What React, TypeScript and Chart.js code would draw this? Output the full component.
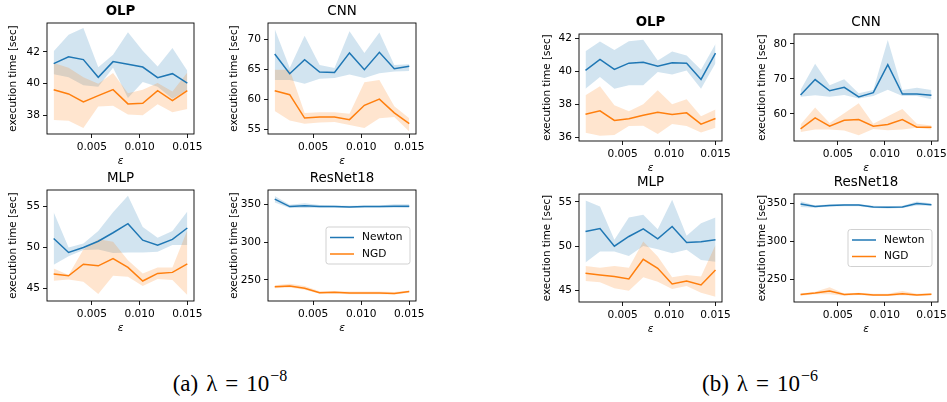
import React, { useEffect, useRef } from "react";
import { Chart, registerables } from "chart.js";
Chart.register(...registerables);

// ---------------- DATA ----------------
const eps = [0.001, 0.00256, 0.00411, 0.00567, 0.00722, 0.00878, 0.01033, 0.01189, 0.01344, 0.015];
const xTickValues = [0.005, 0.01, 0.015];
const xTickLabels = ["0.005", "0.010", "0.015"];
const seriesNames = ["Newton", "NGD"];
const yAxisLabel = "execution time [sec]";
const xAxisLabel = "ε";

// (a) lambda = 1e-8
const olpA_newton = [41.26, 41.7, 41.52, 40.4, 41.39, 41.22, 41.05, 40.38, 40.63, 40.04];
const olpA_newtonHi = [42.04, 43.09, 43.52, 41.03, 41.83, 43.24, 42.08, 41.09, 42.25, 40.82];
const olpA_newtonLo = [40.6, 40.4, 39.9, 39.8, 41.0, 39.1, 40.1, 39.8, 39.05, 39.6];
const olpA_ngd = [39.62, 39.35, 38.84, 39.24, 39.62, 38.72, 38.76, 39.56, 38.93, 39.56];
const olpA_ngdHi = [41.3, 41.0, 40.4, 40.0, 40.67, 39.4, 39.62, 40.04, 39.5, 40.7];
const olpA_ngdLo = [37.7, 37.65, 37.2, 38.55, 38.6, 38.05, 38.0, 38.7, 38.2, 38.4];
const olpA_yTicks = [38, 40, 42];

const cnnA_newton = [67.6, 64.33, 66.67, 64.6, 64.55, 67.8, 65.0, 67.9, 65.17, 65.56];
const cnnA_newtonHi = [71.8, 65.3, 70.67, 65.8, 65.3, 71.4, 67.8, 71.2, 65.8, 65.9];
const cnnA_newtonLo = [63.3, 63.3, 62.67, 63.5, 63.6, 64.2, 63.6, 64.4, 64.7, 64.8];
const cnnA_ngd = [61.5, 60.83, 56.94, 57.1, 57.1, 56.67, 59.06, 60.1, 57.8, 56.0];
const cnnA_ngdHi = [65.0, 65.0, 57.8, 57.9, 57.9, 57.67, 62.9, 63.3, 58.9, 56.9];
const cnnA_ngdLo = [58.1, 56.55, 56.0, 56.2, 56.3, 55.8, 55.3, 56.9, 57.1, 54.7];
const cnnA_yTicks = [55, 60, 65, 70];

const mlpA_newton = [51.1, 49.4, 50.0, 50.77, 51.8, 52.9, 50.9, 50.28, 51.0, 52.38];
const mlpA_newtonHi = [54.3, 50.0, 50.5, 52.0, 54.3, 56.3, 52.5, 51.2, 52.0, 54.4];
const mlpA_newtonLo = [47.9, 48.95, 49.7, 49.76, 49.35, 49.4, 49.4, 49.5, 50.3, 50.3];
const mlpA_ngd = [46.77, 46.57, 47.98, 47.78, 48.67, 47.58, 45.93, 46.85, 46.98, 48.02];
const mlpA_ngdHi = [47.46, 46.65, 49.76, 51.0, 50.7, 48.47, 46.85, 47.58, 47.58, 52.1];
const mlpA_ngdLo = [45.97, 46.13, 45.85, 44.35, 46.57, 46.45, 45.32, 46.17, 46.05, 44.23];
const mlpA_yTicks = [45, 50, 55];

const resA_newton = [357, 347, 348, 347, 347, 346.5, 347, 347, 347.5, 347.5];
const resA_newtonHi = [361, 349.5, 351.5, 349, 348.5, 348, 348.5, 348.5, 350, 350];
const resA_newtonLo = [352.5, 345, 345, 345.5, 345.5, 345, 345.5, 345.5, 345.5, 345];
const resA_ngd = [241, 242, 239, 233, 233.5, 232.5, 232.5, 232.5, 232, 234.5];
const resA_ngdHi = [243, 245, 242, 235, 235, 234.5, 234.5, 234.5, 234, 236];
const resA_ngdLo = [239, 240, 237, 231.5, 232, 231, 231, 231, 230.5, 233];
const resA_yTicks = [250, 300, 350];

// (b) lambda = 1e-6
const olpB_newton = [40.06, 40.72, 40.12, 40.5, 40.56, 40.32, 40.52, 40.5, 39.52, 41.1];
const olpB_newtonHi = [41.22, 41.8, 41.3, 41.82, 41.92, 40.66, 41.2, 40.96, 40.1, 41.66];
const olpB_newtonLo = [38.96, 39.66, 38.96, 39.16, 39.16, 39.96, 39.82, 40.06, 38.96, 40.5];
const olpB_ngd = [37.42, 37.62, 37.04, 37.14, 37.36, 37.54, 37.4, 37.5, 36.82, 37.16];
const olpB_ngdHi = [38.56, 39.1, 37.96, 37.6, 38.02, 38.86, 38.02, 38.32, 37.3, 37.7];
const olpB_ngdLo = [36.3, 36.12, 36.16, 36.7, 36.72, 36.22, 36.82, 36.7, 36.32, 36.6];
const olpB_yTicks = [36, 38, 40, 42];

const cnnB_newton = [65.4, 69.8, 66.6, 67.56, 64.84, 66.06, 74.04, 65.68, 65.68, 65.3];
const cnnB_newtonHi = [66.8, 74.3, 68.2, 69.9, 65.9, 66.8, 81.1, 66.8, 67.46, 66.8];
const cnnB_newtonLo = [64.9, 65.3, 64.9, 65.4, 64.4, 65.1, 66.9, 65.1, 65.1, 64.2];
const cnnB_ngd = [55.73, 58.83, 56.48, 58.17, 58.36, 56.48, 56.95, 58.36, 56.2, 56.2];
const cnnB_ngdHi = [56.95, 61.8, 57.4, 60.2, 63.05, 57.2, 59.3, 61.36, 57.2, 56.7];
const cnnB_ngdLo = [54.8, 55.5, 55.5, 55.26, 53.9, 55.7, 55.35, 55.5, 56.0, 55.5];
const cnnB_yTicks = [60, 70, 80];

const mlpB_newton = [51.66, 52.0, 50.0, 51.1, 51.96, 50.83, 52.23, 50.42, 50.5, 50.72];
const mlpB_newtonHi = [55.17, 54.5, 50.72, 53.25, 53.55, 51.92, 55.25, 51.17, 52.6, 53.25];
const mlpB_newtonLo = [48.15, 49.4, 49.4, 48.9, 50.04, 49.66, 49.2, 49.6, 48.45, 48.26];
const mlpB_ngd = [46.94, 46.75, 46.57, 46.3, 48.53, 47.5, 45.74, 46.08, 45.62, 47.32];
const mlpB_ngdHi = [47.77, 47.58, 47.77, 47.58, 50.53, 48.83, 46.5, 46.75, 46.57, 50.15];
const mlpB_ngdLo = [46.08, 45.92, 45.25, 44.98, 46.5, 46.0, 45.17, 45.5, 44.75, 44.3];
const mlpB_yTicks = [45, 50, 55];

const resB_newton = [349.5, 346, 347.5, 348, 348, 345.5, 345, 345.5, 350, 348.5];
const resB_newtonHi = [353, 347.5, 349, 349.5, 349.5, 347, 346.5, 347, 352.5, 350];
const resB_newtonLo = [345.5, 344.5, 346, 346.5, 346.5, 344, 343.5, 344, 347.5, 347];
const resB_ngd = [230.5, 232.5, 235, 230.5, 231.5, 230, 230, 231.5, 230, 231];
const resB_ngdHi = [232, 234, 240, 232, 233, 231.5, 231.5, 235, 231.5, 232.5];
const resB_ngdLo = [229, 231, 231, 229, 230, 228.5, 228.5, 229.5, 228.5, 229.5];
const resB_yTicks = [250, 300, 350];

// ---------------- STYLE / LAYOUT ----------------
const C0 = "#1f77b4";
const C1 = "#ff7f0e";
const C0_FILL = "rgba(31,119,180,0.2)";
const C1_FILL = "rgba(255,127,14,0.2)";
const FONT = "'DejaVu Sans', sans-serif";
const TITLE_H = 19;
const HX = 34;
const PADR = 16;

type Panel = {
  title: string; bold: boolean;
  newton: number[]; newtonHi: number[]; newtonLo: number[];
  ngd: number[]; ngdHi: number[]; ngdLo: number[];
  yTicks: number[]; yMin: number; yMax: number; legend: boolean;
  L: number; R: number; T: number; B: number; ylabX: number;
};

const panels: Panel[] = [
  { title: "OLP", bold: true, newton: olpA_newton, newtonHi: olpA_newtonHi, newtonLo: olpA_newtonLo, ngd: olpA_ngd, ngdHi: olpA_ngdHi, ngdLo: olpA_ngdLo, yTicks: olpA_yTicks, yMin: 36.82, yMax: 43.83, legend: false, L: 47, R: 194, T: 23, B: 134, ylabX: 13 },
  { title: "CNN", bold: false, newton: cnnA_newton, newtonHi: cnnA_newtonHi, newtonLo: cnnA_newtonLo, ngd: cnnA_ngd, ngdHi: cnnA_ngdHi, ngdLo: cnnA_ngdLo, yTicks: cnnA_yTicks, yMin: 54.28, yMax: 72.78, legend: false, L: 268, R: 416, T: 23, B: 134, ylabX: 234 },
  { title: "MLP", bold: false, newton: mlpA_newton, newtonHi: mlpA_newtonHi, newtonLo: mlpA_newtonLo, ngd: mlpA_ngd, ngdHi: mlpA_ngdHi, ngdLo: mlpA_ngdLo, yTicks: mlpA_yTicks, yMin: 43.5, yMax: 57.0, legend: false, L: 47, R: 194, T: 190, B: 301, ylabX: 13 },
  { title: "ResNet18", bold: false, newton: resA_newton, newtonHi: resA_newtonHi, newtonLo: resA_newtonLo, ngd: resA_ngd, ngdHi: resA_ngdHi, ngdLo: resA_ngdLo, yTicks: resA_yTicks, yMin: 222, yMax: 369, legend: true, L: 268, R: 416, T: 190, B: 301, ylabX: 234 },
  { title: "OLP", bold: true, newton: olpB_newton, newtonHi: olpB_newtonHi, newtonLo: olpB_newtonLo, ngd: olpB_ngd, ngdHi: olpB_ngdHi, ngdLo: olpB_ngdLo, yTicks: olpB_yTicks, yMin: 35.8, yMax: 42.26, legend: false, L: 579, R: 722, T: 34, B: 141, ylabX: 547 },
  { title: "CNN", bold: false, newton: cnnB_newton, newtonHi: cnnB_newtonHi, newtonLo: cnnB_newtonLo, ngd: cnnB_ngd, ngdHi: cnnB_ngdHi, ngdLo: cnnB_ngdLo, yTicks: cnnB_yTicks, yMin: 52.25, yMax: 82.8, legend: false, L: 794, R: 938, T: 34, B: 141, ylabX: 762 },
  { title: "MLP", bold: false, newton: mlpB_newton, newtonHi: mlpB_newtonHi, newtonLo: mlpB_newtonLo, ngd: mlpB_ngd, ngdHi: mlpB_ngdHi, ngdLo: mlpB_ngdLo, yTicks: mlpB_yTicks, yMin: 43.7, yMax: 55.9, legend: false, L: 579, R: 722, T: 194, B: 302, ylabX: 547 },
  { title: "ResNet18", bold: false, newton: resB_newton, newtonHi: resB_newtonHi, newtonLo: resB_newtonLo, ngd: resB_ngd, ngdHi: resB_ngdHi, ngdLo: resB_ngdLo, yTicks: resB_yTicks, yMin: 220.7, yMax: 362.5, legend: true, L: 794, R: 938, T: 194, B: 302, ylabX: 762 },
];

const framePlugin = {
  id: "frame",
  afterDatasetsDraw(chart: any) {
    const { ctx, chartArea: a } = chart;
    ctx.save();
    ctx.strokeStyle = "#000";
    ctx.lineWidth = 0.9;
    ctx.strokeRect(a.left, a.top, a.right - a.left, a.bottom - a.top);
    ctx.restore();
  },
};

const mplLegend = {
  id: "mplLegend",
  afterDraw(chart: any, _args: any, opts: any) {
    if (!opts || !opts.display) return;
    const { ctx, chartArea: a } = chart;
    const w = 84, h = 37;
    const x = a.right - 6 - w;
    const y = (a.top + a.bottom) / 2 - h / 2;
    ctx.save();
    ctx.beginPath();
    const r = 2.5;
    ctx.moveTo(x + r, y);
    ctx.arcTo(x + w, y, x + w, y + h, r);
    ctx.arcTo(x + w, y + h, x, y + h, r);
    ctx.arcTo(x, y + h, x, y, r);
    ctx.arcTo(x, y, x + w, y, r);
    ctx.closePath();
    ctx.fillStyle = "rgba(255,255,255,0.8)";
    ctx.fill();
    ctx.strokeStyle = "#cccccc";
    ctx.lineWidth = 0.9;
    ctx.stroke();
    const items = [
      { label: seriesNames[0], color: C0 },
      { label: seriesNames[1], color: C1 },
    ];
    ctx.font = `10.6px ${FONT}`;
    ctx.textBaseline = "middle";
    ctx.textAlign = "left";
    items.forEach((it, i) => {
      const yy = y + 10.5 + i * 16.5;
      ctx.strokeStyle = it.color;
      ctx.lineWidth = 1.5;
      ctx.beginPath();
      ctx.moveTo(x + 4, yy);
      ctx.lineTo(x + 28, yy);
      ctx.stroke();
      ctx.fillStyle = "#000";
      ctx.fillText(it.label, x + 36, yy);
    });
    ctx.restore();
  },
};

function toPts(arr: number[]) {
  return eps.map((x, i) => ({ x, y: arr[i] }));
}

function SubChart({ p }: { p: Panel }) {
  const ref = useRef<HTMLCanvasElement>(null);
  const canvasLeft = Math.round(p.ylabX - 6.24);
  const canvasTop = p.T - TITLE_H;
  const wy = p.L - canvasLeft;
  const width = p.R - canvasLeft + PADR;
  const height = TITLE_H + (p.B - p.T) + HX;

  useEffect(() => {
    if (!ref.current) return;
    const lineDs = (label: string, data: number[], color: string) => ({
      label, data: toPts(data), borderColor: color, backgroundColor: color,
      borderWidth: 1.5, pointRadius: 0, fill: false, tension: 0,
    });
    const bandDs = (data: number[], color: string, fill: any) => ({
      label: "", data: toPts(data), borderColor: "rgba(0,0,0,0)", backgroundColor: color,
      borderWidth: 0, pointRadius: 0, fill, tension: 0,
    });
    const chart = new Chart(ref.current, {
      type: "line",
      data: {
        datasets: [
          lineDs(seriesNames[1], p.ngd, C1),
          lineDs(seriesNames[0], p.newton, C0),
          bandDs(p.ngdHi, C1_FILL, "+1"),
          bandDs(p.ngdLo, C1_FILL, false),
          bandDs(p.newtonHi, C0_FILL, "+1"),
          bandDs(p.newtonLo, C0_FILL, false),
        ] as any,
      },
      options: {
        animation: false,
        responsive: false,
        events: [],
        layout: { padding: { left: 0, top: 0, right: PADR, bottom: 0 } },
        plugins: {
          legend: { display: false },
          tooltip: { enabled: false },
          filler: { drawTime: "beforeDatasetsDraw" },
          title: {
            display: true, text: p.title, fullSize: false, color: "#000",
            font: { family: FONT, size: 13.4, weight: p.bold ? "bold" : "normal", lineHeight: "15px" },
            padding: { top: 0, bottom: 4 },
          },
          mplLegend: { display: p.legend },
        } as any,
        scales: {
          x: {
            type: "linear", min: 0.0003, max: 0.0157,
            afterFit: (s: any) => { s.height = HX; },
            afterBuildTicks: (s: any) => { s.ticks = xTickValues.map((v) => ({ value: v })); },
            ticks: {
              autoSkip: false, maxRotation: 0, minRotation: 0, padding: 3, color: "#000",
              font: { family: FONT, size: 10.6 },
              callback: (v: any) => {
                const i = xTickValues.findIndex((t) => Math.abs(t - Number(v)) < 1e-9);
                return i >= 0 ? xTickLabels[i] : "";
              },
            },
            grid: { display: true, drawOnChartArea: false, drawTicks: true, tickLength: 4, color: "#000", lineWidth: 0.9 },
            border: { display: false },
            title: { display: true, text: xAxisLabel, color: "#000", padding: { top: 0, bottom: 0 },
              font: { family: FONT, size: 10.6, style: "italic" } },
          },
          y: {
            type: "linear", min: p.yMin, max: p.yMax,
            afterFit: (s: any) => { s.width = wy; },
            afterBuildTicks: (s: any) => { s.ticks = p.yTicks.map((v) => ({ value: v })); },
            ticks: {
              autoSkip: false, padding: 3, color: "#000",
              font: { family: FONT, size: 10.6 },
              callback: (v: any) => String(v),
            },
            grid: { display: true, drawOnChartArea: false, drawTicks: true, tickLength: 4, color: "#000", lineWidth: 0.9 },
            border: { display: false },
            title: { display: true, text: yAxisLabel, color: "#000", padding: { top: 0, bottom: 0 },
              font: { family: FONT, size: 10.4 } },
          },
        },
      } as any,
      plugins: [framePlugin, mplLegend],
    });
    return () => chart.destroy();
  }, []);

  return (
    <canvas
      ref={ref}
      width={width}
      height={height}
      style={{ position: "absolute", left: canvasLeft, top: canvasTop, width, height }}
    />
  );
}

function Caption({ tag, exp, center }: { tag: string; exp: string; center: number }) {
  return (
    <div
      style={{
        position: "absolute", left: center - 130, top: 371, width: 260, textAlign: "center",
        fontFamily: "'Liberation Serif', 'Times New Roman', serif", fontSize: 23, lineHeight: "26px",
        color: "#000", whiteSpace: "nowrap",
      }}
    >
      <span>({tag})</span>
      <span style={{ marginLeft: 8 }}>λ</span>
      <span style={{ margin: "0 8px" }}>=</span>
      <span>10</span>
      <span style={{ fontSize: 16, position: "relative", top: -10, marginLeft: 1 }}>{exp}</span>
    </div>
  );
}

export default function App() {
  return (
    <div style={{ position: "absolute", left: 0, top: 0, width: 947, height: 402, background: "#fff", overflow: "hidden" }}>
      {panels.map((p, i) => (
        <SubChart key={i} p={p} />
      ))}
      <Caption tag="a" exp="−8" center={230} />
      <Caption tag="b" exp="−6" center={760} />
    </div>
  );
}
